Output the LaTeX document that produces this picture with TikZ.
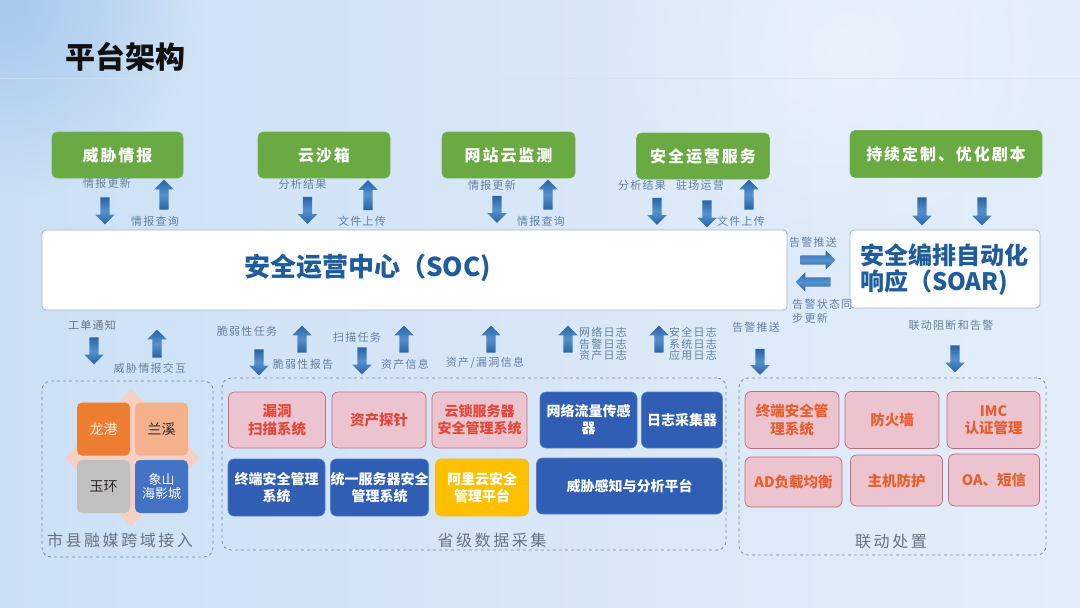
\documentclass[tikz,border=0pt]{standalone}
\usepackage{fontspec}
\setmainfont{Noto Sans CJK SC}
\newfontfamily\widefont[LetterSpace=12]{Noto Sans CJK SC}
\newfontfamily\widerfont[LetterSpace=16]{Noto Sans CJK SC}
\usetikzlibrary{shapes.arrows,shapes.geometric,fadings}
\tikzfading[name=softfade, inner color=transparent!0, outer color=transparent!100]
\definecolor{bgL}{RGB}{204,224,245}
\definecolor{bgR}{RGB}{228,238,250}
\definecolor{bgC}{RGB}{165,200,238}
\definecolor{grn}{RGB}{106,170,66}
\definecolor{grnB}{RGB}{120,175,90}
\definecolor{arrD}{RGB}{40,100,165}
\definecolor{arrL}{RGB}{85,145,205}
\definecolor{lbl}{RGB}{100,128,160}
\definecolor{lblG}{RGB}{105,115,128}
\definecolor{socT}{RGB}{30,92,155}
\definecolor{socB}{RGB}{170,182,195}
\definecolor{ttl}{RGB}{17,17,17}
\definecolor{dsh}{RGB}{125,140,158}
\definecolor{pinkF}{RGB}{236,196,208}
\definecolor{pinkB}{RGB}{200,105,120}
\definecolor{redT}{RGB}{226,72,58}
\definecolor{orgT}{RGB}{232,95,45}
\definecolor{bluF}{RGB}{47,94,180}
\definecolor{bluB}{RGB}{85,130,200}
\definecolor{yel}{RGB}{255,192,0}
\definecolor{yelB}{RGB}{240,185,40}
\definecolor{qOr}{RGB}{237,125,49}
\definecolor{qSa}{RGB}{244,177,140}
\definecolor{qGr}{RGB}{192,192,192}
\definecolor{qBl}{RGB}{68,114,196}
\definecolor{qTl}{RGB}{255,235,220}
\definecolor{qTd}{RGB}{45,40,40}
\definecolor{dia}{RGB}{246,208,196}
\begin{document}
\begin{tikzpicture}[x=1pt,y=-1pt,
  greenbox/.style={fill=grn, draw=grnB, line width=0.6pt, rounded corners=5pt, text=white,
    font=\widefont\bfseries\fontsize{16}{18}\selectfont, minimum height=46pt, inner sep=0pt},
  barr/.style={single arrow, draw=none, inner xsep=0pt, inner ysep=4.5pt,
    minimum width=19pt, single arrow head extend=5pt, single arrow tip angle=90,
    top color=arrD, bottom color=arrD, middle color=arrL},
  darr/.style={barr, rotate=-90, minimum height=#1},
  uarr/.style={barr, rotate=90, minimum height=#1},
  rarr/.style={barr, rotate=0, minimum height=#1},
  larr/.style={barr, rotate=180, minimum height=#1},
  lab/.style={text=lbl, font=\widefont\fontsize{11}{12}\selectfont, inner sep=0pt},
  labg/.style={text=lblG, font=\widefont\fontsize{11}{12}\selectfont, inner sep=0pt},
  lab3/.style={text=lbl, font=\widefont\fontsize{11}{11.5}\selectfont, inner sep=0pt, align=center},
  contbox/.style={draw=dsh, dashed, line width=0.8pt, rounded corners=9pt, inner sep=0pt},
  contlab/.style={text=lblG, font=\widerfont\fontsize{16}{18}\selectfont, inner sep=0pt},
  pinkbox/.style={fill=pinkF, draw=pinkB, line width=0.7pt, rounded corners=6pt, align=center,
    font=\bfseries\fontsize{14.5}{17.5}\selectfont, inner sep=0pt},
  bluebox/.style={fill=bluF, draw=bluB, line width=0.6pt, rounded corners=6pt, align=center, text=white,
    font=\bfseries\fontsize{14}{17}\selectfont, inner sep=0pt},
  quad/.style={rounded corners=5pt, minimum width=53pt, minimum height=53pt, inner sep=0pt, align=center,
    font=\fontsize{14}{15}\selectfont}
]
\useasboundingbox (0,0) rectangle (1080,608);
% background
\shade[left color=bgL, right color=bgR] (0,0) rectangle (1080,608);
\fill[bgC, path fading=softfade] (-200,-200) rectangle (200,200);
\fill[white, opacity=0.35, path fading=softfade] (600,-150) rectangle (1080,250);
\draw[white!75!gray, opacity=0.5, line width=0.8pt] (0,78.5) -- (1080,78.5);

% title
\node[font=\bfseries\fontsize{30}{32}\selectfont, text=ttl, inner sep=0pt] (title) at (125,57) {平台架构};

% top green boxes
\node[greenbox, minimum width=131pt] (g1) at (117.5,155) {威胁情报};
\node[greenbox, minimum width=132pt] (g2) at (324,155) {云沙箱};
\node[greenbox, minimum width=133pt] (g3) at (508.5,155) {网站云监测};
\node[greenbox, minimum width=133pt] (g4) at (703,156) {安全运营服务};
\node[greenbox, minimum width=192pt, minimum height=47pt] (g5) at (946,154) {持续定制、优化剧本};

% main boxes
\node[fill=white, draw=socB, line width=0.8pt, rounded corners=4pt,
  minimum width=745pt, minimum height=80pt, inner sep=0pt] (soc) at (414.5,270) {};
\node[text=socT, font=\bfseries\fontsize{26}{28}\selectfont, inner sep=0pt] (soct) at (367.5,268) {安全运营中心（SOC)};
\node[fill=white, draw=socB, line width=0.8pt, rounded corners=4pt,
  minimum width=190pt, minimum height=78pt, inner sep=0pt] (soar) at (945,269) {};
\node[text=socT, font=\bfseries\fontsize{24}{26}\selectfont, inner sep=0pt, align=left] (soart) at (944,270) {安全编排自动化\\响应（SOAR)};

% arrows and labels on top
\node[lab] (l1a) at (107,183) {情报更新};
\node[darr=27pt] (a1d) at (105,208.5) {};
\node[uarr=30pt] (a1u) at (164,197) {};
\node[lab] (l1b) at (155,221) {情报查询};

\node[lab] (l2a) at (302.5,184) {分析结果};
\node[darr=27pt] (a2d) at (307.5,208) {};
\node[uarr=30pt] (a2u) at (368,197.5) {};
\node[lab] (l2b) at (362,221) {文件上传};

\node[lab] (l3a) at (492,185) {情报更新};
\node[darr=27pt] (a3d) at (497,207) {};
\node[uarr=30pt] (a3u) at (548,197) {};
\node[lab] (l3b) at (541,221) {情报查询};

\node[lab] (l4a) at (642,185) {分析结果};
\node[lab] (l4b) at (700,185) {驻场运营};
\node[darr=27pt] (a4d1) at (657,209) {};
\node[darr=27pt] (a4d2) at (707,211.5) {};
\node[uarr=30pt] (a4u) at (749,197) {};
\node[lab] (l4c) at (741,221) {文件上传};

\node[darr=28pt] (a5d1) at (922,209) {};
\node[darr=28pt] (a5d2) at (982,209) {};

% SOC <-> SOAR
\node[lab] (s1) at (813,242) {告警推送};
\node[rarr=35pt] (sr) at (815.5,260) {};
\node[larr=35pt] (sl) at (815.5,282) {};
\node[lab, align=left, anchor=north west, font=\widefont\fontsize{11}{14}\selectfont] (s2) at (792,299) {告警状态同\\步更新};

% below SOC
\node[labg] (b1a) at (92,325) {工单通知};
\node[darr=27pt] (b1d) at (94,348.5) {};
\node[uarr=28pt] (b1u) at (157,346) {};
\node[lab] (b1b) at (150,368) {威胁情报交互};

\node[lab] (b2a) at (247,331) {脆弱性任务};
\node[darr=26pt] (b2d) at (259,360) {};
\node[uarr=27pt] (b2u) at (302,341.5) {};
\node[lab] (b2b) at (303,364) {脆弱性报告};

\node[lab] (b3a) at (357,337) {扫描任务};
\node[darr=27pt] (b3d) at (362,358.5) {};
\node[uarr=27pt] (b3u) at (404,341.5) {};
\node[lab] (b3b) at (405,364) {资产信息};

\node[uarr=27pt] (b4u) at (491,341.5) {};
\node[lab] (b4b) at (485,363) {资产/漏洞信息};

\node[uarr=27pt] (b5u) at (568,341.5) {};
\node[lab3] (b5b) at (603,344) {网络日志\\告警日志\\资产日志};

\node[uarr=27pt] (b6u) at (659,341.5) {};
\node[lab3] (b6b) at (693,344) {安全日志\\系统日志\\应用日志};

\node[lab] (b7a) at (756,327) {告警推送};
\node[darr=26pt] (b7d) at (760,359.5) {};

\node[lab] (b8a) at (951,325) {联动阻断和告警};
\node[darr=27pt] (b8d) at (955,356.5) {};

% containers
\node[contbox, minimum width=171pt, minimum height=176pt] (cL) at (127.5,469) {};
\node[contbox, minimum width=504pt, minimum height=172pt] (cM) at (474,464) {};
\node[contbox, minimum width=307pt, minimum height=177pt] (cR) at (892.5,466.5) {};
\node[contlab] (cLl) at (120,540) {市县融媒跨域接入};
\node[contlab] (cMl) at (492,540) {省级数据采集};
\node[contlab] (cRl) at (891,541) {联动处置};

% left quadrant
\fill[dia] (131,389) -- (200,458) -- (131,526) -- (65,458) -- cycle;
\node[quad, fill=qOr, text=qTl] (q1) at (103.5,429) {龙港};
\node[quad, fill=qSa, text=qTd] (q2) at (161.5,429) {兰溪};
\node[quad, fill=qGr, text=qTd] (q3) at (103.5,486.5) {玉环};
\node[quad, fill=qBl, text=white, font=\fontsize{13}{14}\selectfont] (q4) at (161.5,486.5) {象山\\海影城};

% middle boxes
\node[pinkbox, text=redT, minimum width=97pt, minimum height=56pt] (m1) at (277,420) {漏洞\\扫描系统};
\node[pinkbox, text=redT, minimum width=94pt, minimum height=56pt] (m2) at (379,420) {资产探针};
\node[pinkbox, text=redT, minimum width=95pt, minimum height=56pt, font=\bfseries\fontsize{14}{17}\selectfont] (m3) at (479.5,420) {云锁服务器\\安全管理系统};
\node[bluebox, minimum width=97pt, minimum height=56pt] (m4) at (588.5,420) {网络流量传感\\器};
\node[bluebox, minimum width=81pt, minimum height=56pt] (m5) at (682,420) {日志采集器};
\node[bluebox, minimum width=97pt, minimum height=57pt] (n1) at (276.5,487.5) {终端安全管理\\系统};
\node[bluebox, minimum width=97pt, minimum height=57pt] (n2) at (379.5,487.5) {统一服务器安全\\管理系统};
\node[bluebox, fill=yel, draw=yelB, minimum width=93pt, minimum height=57pt] (n3) at (482,487.5) {阿里云安全\\管理平台};
\node[bluebox, minimum width=186pt, minimum height=56pt] (n4) at (629.5,486) {威胁感知与分析平台};

% right boxes
\node[pinkbox, text=orgT, minimum width=94pt, minimum height=57pt] (r1) at (792,420) {终端安全管\\理系统};
\node[pinkbox, text=orgT, minimum width=94pt, minimum height=57pt] (r2) at (892,420) {防火墙};
\node[pinkbox, text=orgT, minimum width=93pt, minimum height=57pt] (r3) at (993.5,420) {IMC\\认证管理};
\node[pinkbox, text=orgT, minimum width=97pt, minimum height=50pt] (r4) at (793.5,482) {AD负载均衡};
\node[pinkbox, text=orgT, minimum width=92pt, minimum height=51pt] (r5) at (896.5,480.5) {主机防护};
\node[pinkbox, text=orgT, minimum width=91pt, minimum height=52pt] (r6) at (994,480) {OA、短信};
\end{tikzpicture}
\end{document}
